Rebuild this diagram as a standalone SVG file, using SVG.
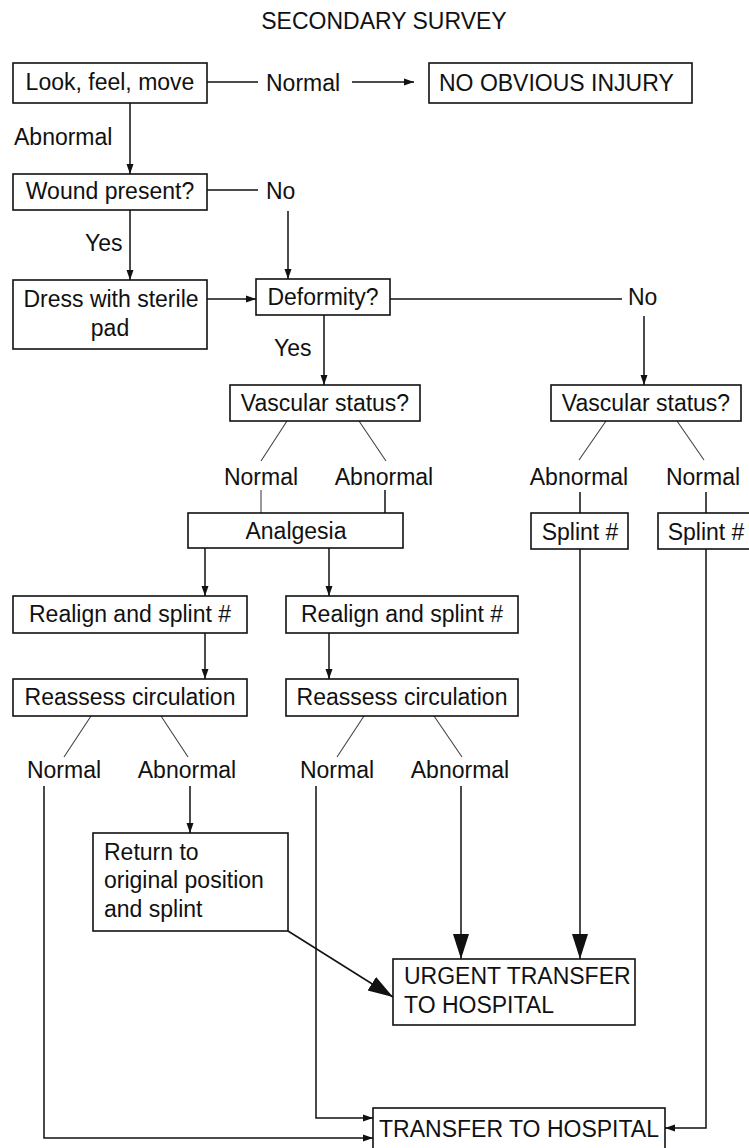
<svg xmlns="http://www.w3.org/2000/svg" width="749" height="1148" viewBox="0 0 749 1148">
<style>
text{font-family:"Liberation Sans",Arial,sans-serif;font-size:23px;fill:#111}
.c{text-anchor:middle}
.box{fill:#fff;stroke:#111;stroke-width:1.6}
.ln{fill:none;stroke:#111;stroke-width:1.5}
.thin{fill:none;stroke:#444;stroke-width:1.1}
</style>
<defs>
<marker id="a" markerUnits="userSpaceOnUse" markerWidth="11" markerHeight="8" refX="10" refY="4" orient="auto"><path d="M0,0.5 L10,4 L0,7.5 z" fill="#111"/></marker>
<marker id="b" markerUnits="userSpaceOnUse" markerWidth="26" markerHeight="18" refX="25" refY="9" orient="auto"><path d="M0,1 L25,9 L0,17 z" fill="#111"/></marker>
</defs>
<text class="c" x="384" y="29">SECONDARY SURVEY</text>

<g id="connectors">
<path class="ln" d="M207,82 H258"/>
<path class="ln" d="M352,82 H414" marker-end="url(#a)"/>
<path class="ln" d="M130,103 V174" marker-end="url(#a)"/>
<path class="ln" d="M207,190 H258"/>
<path class="ln" d="M288,211 V279" marker-end="url(#a)"/>
<path class="ln" d="M130,210 V280" marker-end="url(#a)"/>
<path class="ln" d="M207,299 H256" marker-end="url(#a)"/>
<path class="ln" d="M390,299 H622"/>
<path class="ln" d="M644,316 V385" marker-end="url(#a)"/>
<path class="ln" d="M324,315 V385" marker-end="url(#a)"/>
<path class="thin" d="M287,421 L261,461 M359,421 L386,461 M606,421 L579,460 M677,421 L704,460"/>
<path class="thin" d="M261,490 V513"/>
<path class="ln" d="M385,490 V516"/>
<path class="ln" d="M580,492 V513 M706,492 V513"/>
<path class="ln" d="M205,548 V596" marker-end="url(#a)"/>
<path class="ln" d="M329,548 V596" marker-end="url(#a)"/>
<path class="ln" d="M205,633 V679" marker-end="url(#a)"/>
<path class="ln" d="M329,633 V679" marker-end="url(#a)"/>
<path class="thin" d="M91,716 L64,757 M161,716 L188,757 M364,716 L337,757 M434,716 L462,757"/>
<path class="ln" d="M190,786 V833" marker-end="url(#a)"/>
<path class="ln" d="M44,786 V1138 H373" marker-end="url(#a)"/>
<path class="ln" d="M316,786 V1118 H373" marker-end="url(#a)"/>
<path class="ln" d="M461,786 V959" marker-end="url(#b)"/>
<path class="ln" d="M580,549 V959" marker-end="url(#b)"/>
<path class="ln" d="M706,549 V1128 H665" marker-end="url(#a)"/>
<path class="ln" d="M288,931 L393,997" marker-end="url(#b)"/>
<text x="266" y="91">Normal</text>
<text x="14" y="145">Abnormal</text>
<text x="266" y="199">No</text>
<text x="85" y="251">Yes</text>
<text x="628" y="305">No</text>
<text x="274" y="356">Yes</text>
<text class="c" x="261" y="485">Normal</text>
<text class="c" x="384" y="485">Abnormal</text>
<text class="c" x="579" y="485">Abnormal</text>
<text class="c" x="703" y="485">Normal</text>
<text class="c" x="64" y="778">Normal</text>
<text class="c" x="187" y="778">Abnormal</text>
<text class="c" x="337" y="778">Normal</text>
<text class="c" x="460" y="778">Abnormal</text>
</g>

<g id="look"><rect class="box" x="13" y="63" width="194" height="40"/><text class="c" x="110" y="90">Look, feel, move</text></g>
<g id="no-injury"><rect class="box" x="429" y="63" width="263" height="40"/><text x="439" y="91">NO OBVIOUS INJURY</text></g>
<g id="wound"><rect class="box" x="13" y="174" width="194" height="36"/><text class="c" x="110" y="199">Wound present?</text></g>
<g id="dress"><rect class="box" x="13" y="280" width="194" height="69"/><text class="c" x="111" y="307">Dress with sterile</text><text class="c" x="110" y="336">pad</text></g>
<g id="deformity"><rect class="box" x="256" y="279" width="134" height="36"/><text class="c" x="323" y="305">Deformity?</text></g>
<g id="vascular-left"><rect class="box" x="230" y="385" width="190" height="36"/><text class="c" x="325" y="411">Vascular status?</text></g>
<g id="vascular-right"><rect class="box" x="551" y="385" width="190" height="36"/><text class="c" x="646" y="411">Vascular status?</text></g>
<g id="analgesia"><rect class="box" x="188" y="513" width="215" height="35"/><text class="c" x="296" y="539">Analgesia</text></g>
<g id="splint-left"><rect class="box" x="531" y="513" width="97" height="36"/><text class="c" x="580" y="540">Splint #</text></g>
<g id="splint-right"><rect class="box" x="658" y="513" width="97" height="36"/><text class="c" x="706" y="540">Splint #</text></g>
<g id="realign-left"><rect class="box" x="13" y="596" width="234" height="37"/><text class="c" x="130" y="622">Realign and splint #</text></g>
<g id="realign-right"><rect class="box" x="286" y="596" width="232" height="37"/><text class="c" x="402" y="622">Realign and splint #</text></g>
<g id="reassess-left"><rect class="box" x="13" y="679" width="234" height="37"/><text class="c" x="130" y="705">Reassess circulation</text></g>
<g id="reassess-right"><rect class="box" x="286" y="679" width="232" height="37"/><text class="c" x="402" y="705">Reassess circulation</text></g>
<g id="return"><rect class="box" x="93" y="833" width="195" height="98"/><text x="104" y="860">Return to</text><text x="104" y="888">original position</text><text x="104" y="917">and splint</text></g>
<g id="urgent"><rect class="box" x="393" y="959" width="242" height="66"/><text x="404" y="984">URGENT TRANSFER</text><text x="404" y="1013">TO HOSPITAL</text></g>
<g id="transfer"><rect class="box" x="373" y="1108" width="292" height="42"/><text class="c" x="519" y="1137">TRANSFER TO HOSPITAL</text></g>
</svg>
